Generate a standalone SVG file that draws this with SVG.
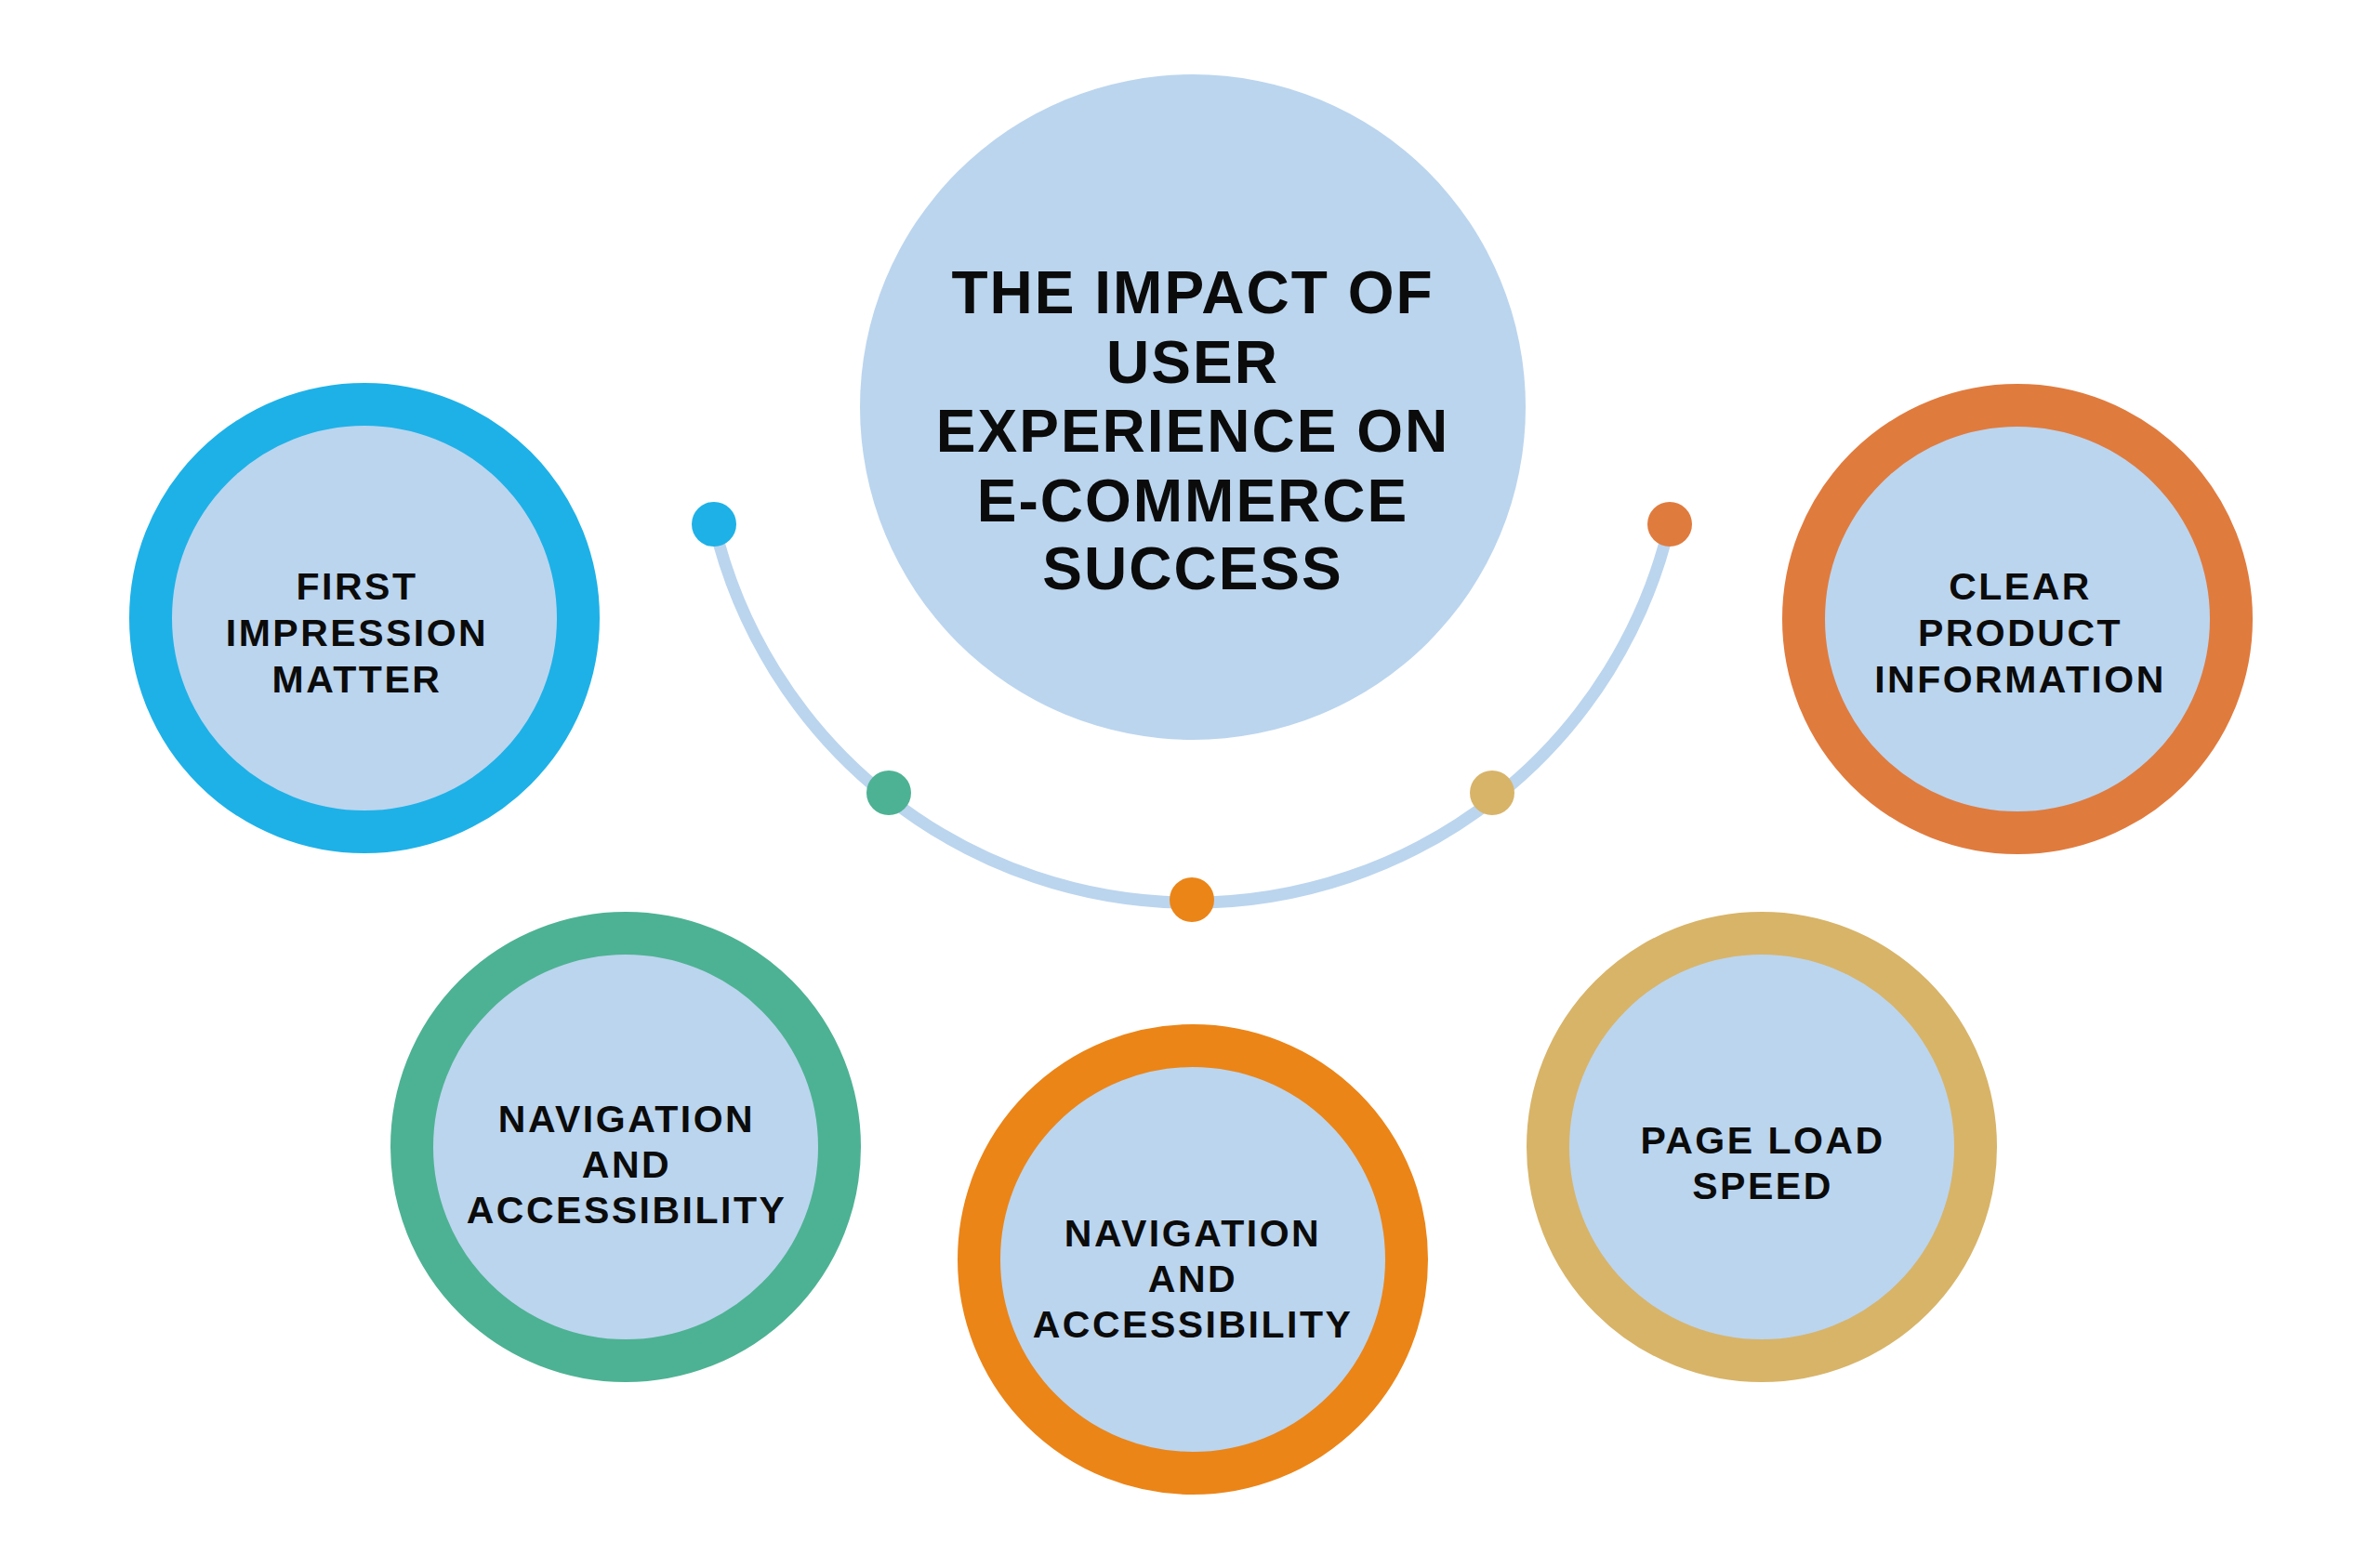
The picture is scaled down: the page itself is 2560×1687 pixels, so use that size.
<svg xmlns="http://www.w3.org/2000/svg" width="2560" height="1687" viewBox="0 0 2560 1687">
<style>
.bg{fill:#ffffff}
.core{fill:#BBD5EE}
.ring{fill:#BBD5EE;stroke-width:46}
.t{font-family:"Liberation Sans",Arial,sans-serif;font-weight:bold;fill:#0b0b0b;text-anchor:middle}
.title{font-size:64px;letter-spacing:2px}
.lbl{font-size:41px;letter-spacing:2.5px}
.arc{fill:none;stroke:#BBD5EE;stroke-width:13}
</style>
<rect class="bg" x="0" y="0" width="2560" height="1687"/>
<g id="connectors">
<path class="arc" d="M 768 564 A 528 528 0 0 0 1796 564"/>
<circle cx="768" cy="564" r="24" fill="#1EB1E7"/>
<circle cx="956" cy="853" r="24" fill="#4DB293"/>
<circle cx="1282" cy="968" r="24" fill="#EB8518"/>
<circle cx="1605" cy="853" r="24" fill="#D8B469"/>
<circle cx="1796" cy="564" r="24" fill="#E07B3E"/>
</g>
<g id="center">
<circle class="core" cx="1283" cy="438" r="358"/>
<text class="t title"><tspan x="1283" y="337">THE IMPACT OF</tspan><tspan x="1283" y="412">USER</tspan><tspan x="1283" y="486">EXPERIENCE ON</tspan><tspan x="1283" y="561">E-COMMERCE</tspan><tspan x="1283" y="634">SUCCESS</tspan></text>
</g>
<g id="first-impression">
<circle class="ring" cx="392" cy="665" r="230" stroke="#1EB1E7"/>
<text class="t lbl"><tspan x="384" y="645">FIRST</tspan><tspan x="384" y="695">IMPRESSION</tspan><tspan x="384" y="745">MATTER</tspan></text>
</g>
<g id="clear-product">
<circle class="ring" cx="2170" cy="666" r="230" stroke="#E07B3E"/>
<text class="t lbl"><tspan x="2173" y="645">CLEAR</tspan><tspan x="2173" y="695">PRODUCT</tspan><tspan x="2173" y="745">INFORMATION</tspan></text>
</g>
<g id="navigation-green">
<circle class="ring" cx="673" cy="1234" r="230" stroke="#4DB293"/>
<text class="t lbl"><tspan x="674" y="1218">NAVIGATION</tspan><tspan x="674" y="1267">AND</tspan><tspan x="674" y="1316">ACCESSIBILITY</tspan></text>
</g>
<g id="navigation-orange">
<circle class="ring" cx="1283" cy="1355" r="230" stroke="#EB8518"/>
<text class="t lbl"><tspan x="1283" y="1341">NAVIGATION</tspan><tspan x="1283" y="1390">AND</tspan><tspan x="1283" y="1439">ACCESSIBILITY</tspan></text>
</g>
<g id="page-load">
<circle class="ring" cx="1895" cy="1234" r="230" stroke="#D8B469"/>
<text class="t lbl"><tspan x="1896" y="1241">PAGE LOAD</tspan><tspan x="1896" y="1290">SPEED</tspan></text>
</g>
</svg>
